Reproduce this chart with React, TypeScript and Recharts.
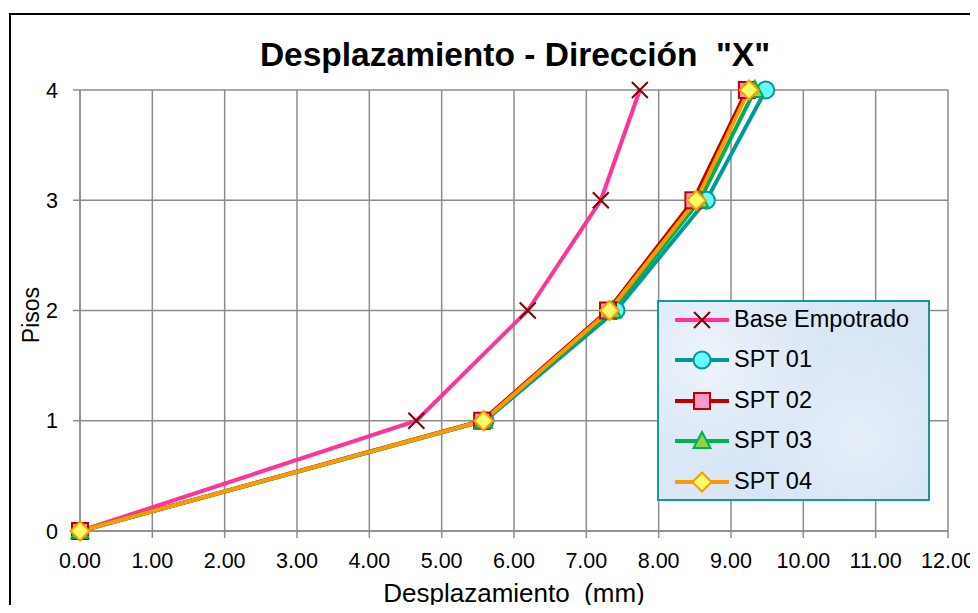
import React from "react";
import { LineChart, Line, XAxis, YAxis, CartesianGrid } from "recharts";

const PISOS = [0, 1, 2, 3, 4];
const X_TICKS = [0, 1, 2, 3, 4, 5, 6, 7, 8, 9, 10, 11, 12];

const BASE_EMPOTRADO = [0, 4.65, 6.19, 7.2, 7.74];
const SPT_01 = [0, 5.6, 7.41, 8.66, 9.48];
const SPT_02 = [0, 5.56, 7.3, 8.48, 9.22];
const SPT_03 = [0, 5.58, 7.36, 8.57, 9.33];
const SPT_04 = [0, 5.58, 7.32, 8.52, 9.25];

const FONT = "'Liberation Sans', Arial, sans-serif";

type Marker = "x" | "circle" | "square" | "triangle" | "diamond";

const SERIES: { name: string; values: number[]; line: string; fill: string; stroke: string; marker: Marker }[] = [
  { name: "Base Empotrado", values: BASE_EMPOTRADO, line: "#FF3399", fill: "none", stroke: "#800000", marker: "x" },
  { name: "SPT 01", values: SPT_01, line: "#009999", fill: "#66FFFF", stroke: "#009999", marker: "circle" },
  { name: "SPT 02", values: SPT_02, line: "#C00000", fill: "#FF99CC", stroke: "#C00000", marker: "square" },
  { name: "SPT 03", values: SPT_03, line: "#00B050", fill: "#92D050", stroke: "#00B050", marker: "triangle" },
  { name: "SPT 04", values: SPT_04, line: "#FF9900", fill: "#FFFF66", stroke: "#FF9900", marker: "diamond" },
];

function shape(marker: Marker, cx: number, cy: number, fill: string, stroke: string, key?: string | number) {
  switch (marker) {
    case "x":
      return (
        <g key={key}>
          <path d={`M${cx - 8},${cy - 8}L${cx + 8},${cy + 8}M${cx - 8},${cy + 8}L${cx + 8},${cy - 8}`} stroke={stroke} strokeWidth={2} />
        </g>
      );
    case "circle":
      return <circle key={key} cx={cx} cy={cy} r={8.5} fill={fill} stroke={stroke} strokeWidth={2} />;
    case "square":
      return <rect key={key} x={cx - 8} y={cy - 8} width={16} height={16} fill={fill} stroke={stroke} strokeWidth={2} />;
    case "triangle":
      return <path key={key} d={`M${cx},${cy - 9}L${cx + 8.5},${cy + 7}L${cx - 8.5},${cy + 7}Z`} fill={fill} stroke={stroke} strokeWidth={2} />;
    case "diamond":
      return <path key={key} d={`M${cx},${cy - 9.5}L${cx + 9.5},${cy}L${cx},${cy + 9.5}L${cx - 9.5},${cy}Z`} fill={fill} stroke={stroke} strokeWidth={2} />;
  }
}

export default function App() {
  return (
    <div style={{ position: "relative", width: 978, height: 613, margin: -8, overflow: "hidden", background: "#fff", fontFamily: FONT }}>
      <div style={{ position: "absolute", left: 0, width: 1030, top: 36, lineHeight: "38px", textAlign: "center", fontSize: 33.5, fontWeight: "bold", color: "#000", whiteSpace: "pre" }}>
        {'Desplazamiento - Dirección  "X"'}
      </div>
      <div style={{ position: "absolute", left: 0, top: 0 }}>
        <LineChart width={978} height={613} margin={{ top: 90, right: 30, bottom: 42, left: 40 }}>
          <CartesianGrid stroke="#8c8c8c" strokeWidth={1.5} />
          <XAxis
            type="number"
            dataKey="x"
            domain={[0, 12]}
            ticks={X_TICKS}
            interval={0}
            tickFormatter={(v: number) => v.toFixed(2)}
            tick={{ fill: "#000", fontSize: 21.5, fontFamily: FONT }}
            stroke="#8c8c8c"
            strokeWidth={1.5}
            tickSize={7}
            tickMargin={15}
            height={40}
            label={{ value: "Desplazamiento \u00A0(mm)", position: "bottom", offset: 13, fill: "#000", fontSize: 26, fontFamily: FONT }}
          />
          <YAxis
            type="number"
            dataKey="y"
            domain={[0, 4]}
            ticks={PISOS}
            interval={0}
            tick={{ fill: "#000", fontSize: 21.5, fontFamily: FONT }}
            stroke="#8c8c8c"
            strokeWidth={1.5}
            tickSize={7}
            tickMargin={15}
            width={40}
            label={{
              content: () => (
                <text transform="translate(39,315) rotate(-90)" textAnchor="middle" fontSize={23} fontFamily={FONT} fill="#000">
                  Pisos
                </text>
              ),
            }}
          />
          {SERIES.map((s) => (
            <Line
              key={s.name}
              name={s.name}
              data={s.values.map((v, i) => ({ x: v, y: PISOS[i] }))}
              dataKey="y"
              type="linear"
              stroke={s.line}
              strokeWidth={4}
              isAnimationActive={false}
              dot={(p: any) => shape(s.marker, p.cx, p.cy, s.fill, s.stroke, p.index)}
              activeDot={false}
            />
          ))}
        </LineChart>
      </div>
      <div
        style={{
          position: "absolute",
          left: 657,
          top: 300,
          width: 269,
          height: 197,
          border: "2px solid #149999",
          background:
            "radial-gradient(circle at 20% 30%, rgba(255,255,255,0.5), rgba(255,255,255,0) 40%), radial-gradient(circle at 75% 70%, rgba(255,255,255,0.4), rgba(255,255,255,0) 45%), linear-gradient(135deg, #dde9f6, #d3e3f5)",
        }}
      >
        {SERIES.map((s, i) => (
          <div key={s.name} style={{ position: "absolute", left: 0, top: -2 + i * 40.4, height: 40, width: 269 }}>
            <svg width={60} height={40} style={{ position: "absolute", left: 12, top: 0 }}>
              <line x1={4} y1={20} x2={58} y2={20} stroke={s.line} strokeWidth={4} />
              {shape(s.marker, 31, 20, s.fill, s.stroke)}
            </svg>
            <span style={{ position: "absolute", left: 75, top: 6, fontSize: 23.5, lineHeight: "27px", color: "#000", whiteSpace: "nowrap" }}>{s.name}</span>
          </div>
        ))}
      </div>
      <div style={{ position: "absolute", zIndex: 5, left: 9, top: 13, width: 1000, height: 700, borderLeft: "2px solid #000", borderTop: "2px solid #000", pointerEvents: "none" }} />
    </div>
  );
}
